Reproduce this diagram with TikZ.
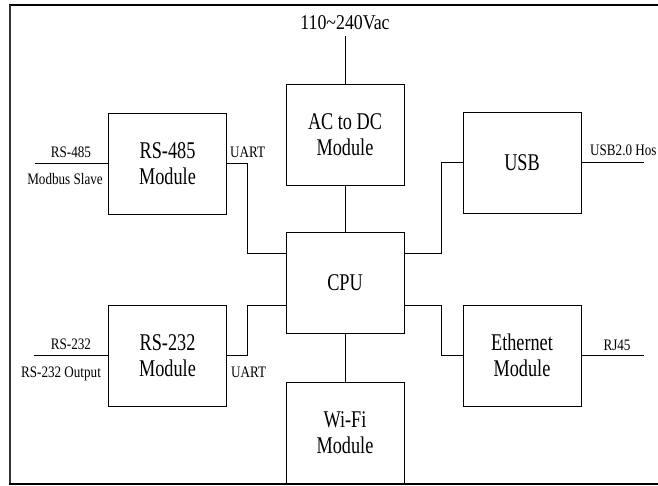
\documentclass[tikz,border=0pt]{standalone}
\usepackage{fontspec}
\setmainfont{Liberation Serif}
\usepackage{graphicx}
\usetikzlibrary{calc}
\newcommand{\cn}[1]{\scalebox{0.76}[1]{#1}}
\newcommand{\cs}[1]{\scalebox{0.82}[1]{#1}}
\begin{document}
\begin{tikzpicture}[x=1pt,y=-1pt,
  blk/.style={draw, line width=0.9pt, minimum width=118pt, minimum height=101pt, inner sep=0pt, align=center, font=\fontsize{24}{25.5}\selectfont},
  lbl/.style={font=\fontsize{16}{18}\selectfont, inner sep=0pt},
  wire/.style={line width=0.9pt},
  frm/.style={line width=2.2pt}]
\useasboundingbox (0,0) rectangle (658,485);
% frame
\draw[frm] (9,5) -- (658,5);
\draw[frm, black!80] (10,5) -- (10,484);
\draw[frm] (9,484) -- (658,484);
% blocks
\node[blk] (ac) at (345,134.5) {\cn{AC to DC}\\\cn{Module}};
\node[blk] (cpu) at (345,282.5) {\cn{CPU}};
\node[blk] (wifi) at (345,432.5) {\cn{Wi-Fi}\\\cn{Module}};
\node[blk] (rs485) at (167.5,163.5) {\cn{RS-485}\\\cn{Module}};
\node[blk] (rs232) at (167.5,355.5) {\cn{RS-232}\\\cn{Module}};
\node[blk] (usb) at (522,162.5) {\cn{USB}};
\node[blk] (eth) at (522,355.5) {\cn{Ethernet}\\\cn{Module}};
% free ends
\coordinate (vac) at (345,36);
\coordinate (l485) at (35,163.5);
\coordinate (l232) at (34,355.5);
\coordinate (rusb) at (644,162.5);
\coordinate (reth) at (644,355.5);
\coordinate (c1) at ($(cpu.north west)+(0,22)$);
\coordinate (c2) at ($(cpu.north west)+(0,74)$);
\coordinate (c3) at ($(cpu.north east)+(0,22)$);
\coordinate (c4) at ($(cpu.north east)+(0,74)$);
% connectors
\draw[wire] (vac) -- (ac.north);
\draw[wire] (ac.south) -- (cpu.north);
\draw[wire] (cpu.south) -- (wifi.north);
\draw[wire] (l485) -- (rs485.west);
\draw[wire] (l232) -- (rs232.west);
\draw[wire] (usb.east) -- (rusb);
\draw[wire] (eth.east) -- (reth);
\draw[wire] (rs485.east) -| ($(c1)+(-38,0)$) -- (c1);
\draw[wire] (rs232.east) -| ($(c2)+(-38,0)$) -- (c2);
\draw[wire] (usb.west) -| ($(c3)+(37,0)$) -- (c3);
\draw[wire] (eth.west) -| ($(c4)+(37,0)$) -- (c4);
% labels
\node[lbl, font=\fontsize{21}{23}\selectfont, anchor=base] (tvac) at (345,29) {\scalebox{0.85}[1]{110\textasciitilde240Vac}};
\node[lbl, anchor=base] (t485) at (71,157) {\cs{RS-485}};
\node[lbl, anchor=base] (tmod) at (65,184) {\cs{Modbus Slave}};
\node[lbl, anchor=base west] (tu1) at (230,157) {\cs{UART}};
\node[lbl, anchor=base] (t232) at (71,349) {\cs{RS-232}};
\node[lbl, anchor=base] (tout) at (61,377) {\cs{RS-232 Output}};
\node[lbl, anchor=base west] (tu2) at (231,377) {\cs{UART}};
\node[lbl, anchor=base west] (tusb) at (590,155) {\cs{USB2.0 Hos}};
\node[lbl, anchor=base] (trj) at (617,350) {\cs{RJ45}};
\end{tikzpicture}
\end{document}
